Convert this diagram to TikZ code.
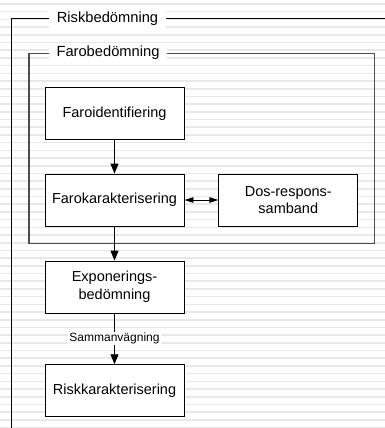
\documentclass[tikz,border=0pt]{standalone}
\usepackage{fontspec}
\setmainfont{Liberation Sans}
\usetikzlibrary{arrows.meta}
\begin{document}
\begin{tikzpicture}[x=1pt,y=-1pt,
  stripe/.style={draw=black!9,line width=1.6pt},
  frameline/.style={draw=black,line width=0.9pt},
  innerframe/.style={draw=black!70,line width=1.3pt},
  framelabel/.style={fill=white,inner xsep=8pt,inner ysep=2.5pt,font=\fontsize{14.7}{17.5}\selectfont},
  box/.style={draw=black,fill=white,line width=0.9pt,minimum width=139pt,minimum height=52pt,inner sep=0pt,align=center,font=\fontsize{14.5}{17.8}\selectfont},
  arr/.style={draw=black,line width=0.9pt,-{Triangle[length=10pt,width=8pt]}},
  darr/.style={draw=black,line width=0.9pt,{Triangle[length=9pt,width=5.5pt]}-{Triangle[length=9pt,width=5.5pt]}},
  arrlabel/.style={fill=white,inner sep=1pt,font=\fontsize{12}{14}\selectfont}]
\useasboundingbox (0,0) rectangle (385,428);
\fill[white] (0,0) rectangle (385,428);
\foreach \i in {0,...,55} \draw[stripe] (0,4+7.7*\i) -- (385,4+7.7*\i);
% outer frame
\coordinate (oTR) at (385,18.3);
\coordinate (oBL) at (11.7,428);
\draw[frameline] (oTR) -| (oBL);
\node[framelabel] (rb) at (107.5,18.3) {Riskbedömning};
% inner frame
\draw[innerframe] (29,53.3) rectangle (374.7,243.3);
\node[framelabel] (fb) at (108,52.5) {Farobedömning};
% boxes
\node[box] (fi) at (114.5,113.3) {Faroidentifiering};
\node[box] (fk) at (114.5,200) {Farokarakterisering};
\node[box] (dr) at (288.3,200) {Dos-respons-\\samband};
\node[box] (ex) at (114.5,287) {Exponerings-\\bedömning};
\node[box] (rk) at (114.5,390.7) {Riskkarakterisering};
% connectors
\draw[arr] (fi) -- (fk);
\draw[darr] (fk) -- (dr);
\draw[arr] (fk) -- (ex);
\draw[arr] (ex) -- node[arrlabel] (sv) {Sammanvägning} (rk);
\end{tikzpicture}
\end{document}
